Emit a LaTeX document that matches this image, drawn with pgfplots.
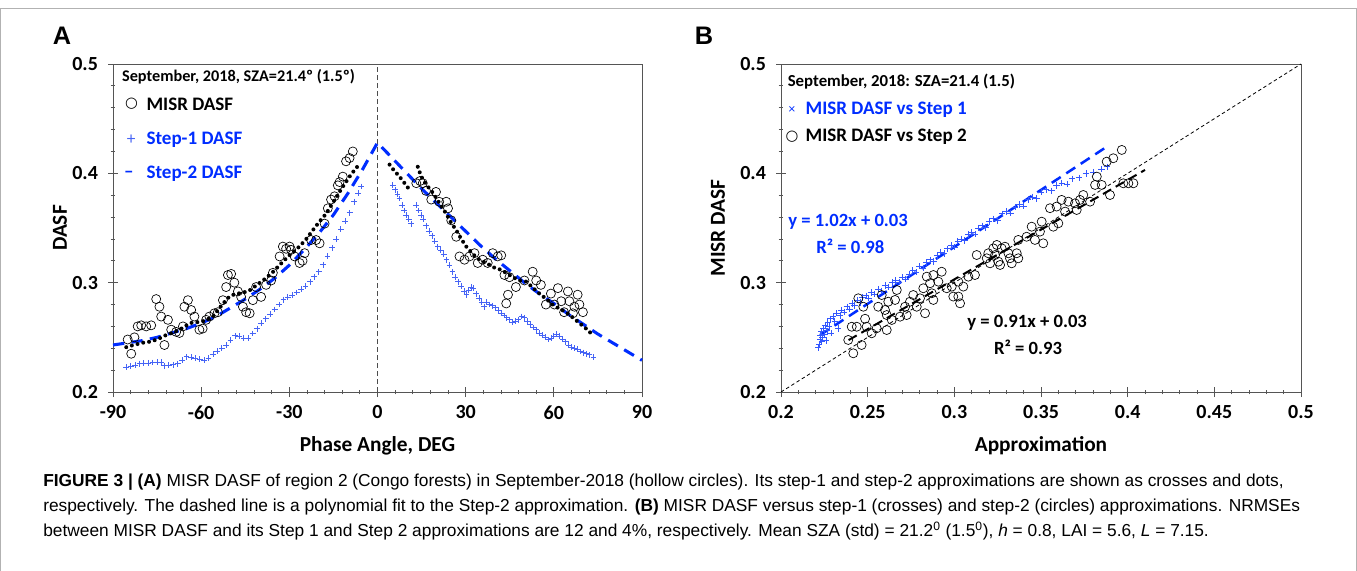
\documentclass[border=0pt]{standalone}
\usepackage{fontspec}
\setmainfont{Carlito}
\newfontfamily\capfont{Liberation Sans}
\newfontfamily\symfont{DejaVu Sans}
\usepackage{pgfplots}
\pgfplotsset{compat=1.18}
\definecolor{dblue}{RGB}{0,45,255}
\definecolor{lblue}{RGB}{70,100,245}
\definecolor{axgray}{RGB}{85,85,85}
\newcommand\lgf{\bfseries\fontsize{14.3}{17}\selectfont}
\newcommand\eqf{\bfseries\fontsize{14}{17}\selectfont}
\pgfplotsset{
  myax/.style={
    scale only axis,
    height=246pt,
    anchor=south west,
    axis line style={axgray, line width=0.7pt},
    tick pos=left,
    tick align=center,
    major tick length=7.5pt,
    minor tick length=3.5pt,
    every tick/.style={axgray, line width=0.6pt},
    minor x tick num=4,
    minor y tick num=4,
    tick label style={font=\bfseries\fontsize{15}{18}\selectfont},
    xticklabel style={yshift=-3pt},
    yticklabel style={xshift=-4pt},
    every axis x label/.style={at={(axis description cs:0.5,0)}, yshift=-40pt, anchor=center, font=\bfseries\fontsize{16}{19}\selectfont},
    ymin=0.2, ymax=0.5,
    ytick={0.2,0.3,0.4,0.5},
    yticklabels={0.2,0.3,0.4,0.5},
    clip=false,
  }
}
\begin{document}
\begin{tikzpicture}
\useasboundingbox (0,0) rectangle (1017.75pt,-428.25pt);
\draw[gray!60, line width=0.75pt] (0.4pt,-428.25pt) -- (0.4pt,-6pt) -- (1017.35pt,-6pt) -- (1017.35pt,-428.25pt);
\node[font=\capfont\bfseries\fontsize{19}{22}\selectfont] at (46.5pt,-27pt) {A};
\node[font=\capfont\bfseries\fontsize{19}{22}\selectfont] at (528pt,-27pt) {B};

% ---------------- Panel A ----------------
\begin{axis}[myax,
  at={(84.75pt,-294pt)}, width=396.75pt,
  xmin=-90, xmax=90,
  xtick={-90,-60,-30,0,30,60,90},
  xticklabels={-90,-60,-30,0,30,60,90},
  xlabel={Phase Angle, DEG},
  every axis y label/.style={at={(axis description cs:0,0.5)}, xshift=-39.75pt, rotate=90, anchor=center, font=\bfseries\fontsize{16}{19}\selectfont},
  ylabel={DASF},
]
\addplot[gray!60!black, line width=0.7pt, dash pattern=on 3.5pt off 2.5pt] coordinates {(0,0.2) (0,0.5)};
% Step-1 DASF (crosses)
\addplot[only marks, mark=+, mark size=2.2pt, lblue, mark options={line width=0.55pt}] coordinates {
(-85.5,0.2226) (-84,0.2235) (-82.5,0.2245) (-81,0.2260) (-79.5,0.2262) (-78,0.2266) (-76.5,0.2270) (-75,0.2275) (-73.5,0.2272) (-72.5,0.2240) (-71,0.2245) (-69.5,0.2250) (-68,0.2258) (-66.5,0.2290) (-65,0.2323) (-63.5,0.2318) (-62,0.2308) (-60.5,0.2300) (-59,0.2293) (-57.5,0.2310) (-56,0.2345) (-54.5,0.2375) (-53,0.2400) (-51.5,0.2430) (-50,0.2475) (-48.5,0.2515) (-47,0.2510) (-45.5,0.2495) (-44,0.2490) (-42.5,0.2535) (-41,0.2580) (-39.5,0.2630) (-38,0.2670) (-36.5,0.2710) (-35,0.2755) (-33.5,0.2800) (-32,0.2845) (-30.5,0.2865) (-29,0.2885) (-27.5,0.2910) (-26,0.2940) (-24.5,0.2970) (-23,0.3010) (-21.5,0.3055) (-20,0.3100) (-18.5,0.3165) (-17,0.3240) (-15.5,0.3320) (-14,0.3400) (-12.5,0.3490) (-11,0.3565) (-9.5,0.3640) (-8,0.3740) (-6.5,0.3820) (-5.5,0.3880)
(5.2,0.389) (6.0,0.385) (6.8,0.381) (7.5,0.377) (8.3,0.371) (9.0,0.366) (9.8,0.362) (10.6,0.358) (11.5,0.354)
(13.2,0.371) (14.0,0.366) (14.8,0.362) (15.5,0.358) (16.5,0.352) (17.5,0.347) (18.5,0.343) (19.5,0.338) (20.5,0.333) (21.5,0.330) (22.5,0.326) (23.5,0.321) (24.5,0.316) (25.5,0.310) (26.5,0.305) (27.5,0.301) (28.5,0.297) (29.5,0.292) (30.3,0.289) (31.0,0.293) (31.8,0.296) (32.6,0.295) (33.5,0.290) (34.5,0.286) (35.5,0.282) (36.3,0.278) (37.0,0.282) (38.0,0.280) (39.0,0.279) (40.0,0.277) (41.0,0.275) (42.0,0.272) (43.0,0.270) (44.0,0.268) (45.0,0.266) (46.0,0.264) (47.0,0.265) (48.0,0.266) (49.0,0.269) (50.0,0.268) (51.0,0.265) (52.0,0.262) (53.0,0.259) (54.0,0.257) (55.0,0.254) (56.0,0.252) (57.0,0.250) (58.0,0.248) (59.0,0.249) (60.0,0.251) (61.0,0.253) (62.0,0.251) (63.0,0.248) (64.0,0.246) (65.0,0.243) (66.0,0.241) (67.0,0.240) (68.0,0.239) (69.0,0.237) (70.0,0.236) (71.0,0.235) (72.0,0.234) (73.5,0.232)
};
% MISR DASF (circles)
\addplot[only marks, mark=o, mark size=3.4pt, black, mark options={line width=0.5pt}] coordinates {
(-85,0.248) (-83.8,0.235) (-82.7,0.250) (-81.6,0.260) (-80.4,0.261) (-78.7,0.260) (-77,0.261) (-75.3,0.285) (-74.2,0.278) (-73.6,0.269) (-72.5,0.243) (-71.3,0.266) (-70.2,0.257) (-68.5,0.255) (-67.4,0.254) (-66.2,0.260) (-65.7,0.278) (-64.5,0.284) (-63.4,0.275) (-62.3,0.269) (-60.6,0.257) (-59.5,0.258) (-58.3,0.266) (-57.2,0.269) (-55.5,0.272) (-54.3,0.273) (-52.6,0.284) (-51.5,0.296) (-50.9,0.307) (-49.8,0.308) (-48.7,0.300) (-47.5,0.292) (-46.4,0.287) (-45.8,0.278) (-44.7,0.273) (-43.5,0.272) (-42.4,0.284) (-41.3,0.296) (-39.6,0.287) (-37.9,0.298) (-36.2,0.302) (-35.6,0.309) (-33.3,0.324) (-32.2,0.333) (-31.1,0.331) (-29.9,0.333) (-29.4,0.330) (-28.2,0.324) (-26.5,0.318) (-25.5,0.320) (-24.8,0.327) (-22.6,0.339) (-20.9,0.339) (-19.7,0.336) (-18,0.354) (-16.9,0.368) (-15.8,0.376) (-14.6,0.379) (-13.5,0.389) (-12.9,0.392) (-11.8,0.397) (-10.7,0.411) (-9.5,0.414) (-8.4,0.420)
(13.2,0.391) (14.5,0.393) (15.4,0.391) (16.5,0.384) (18.3,0.376) (19.9,0.383) (21,0.374) (23.4,0.374) (24,0.368) (25.1,0.357) (26.8,0.342) (27.9,0.324) (29.6,0.321) (31.3,0.324) (33,0.327) (34.1,0.318) (35.8,0.321) (37.5,0.318) (39.2,0.327) (40.9,0.324) (42.1,0.325) (43.2,0.307) (44.9,0.305) (44.4,0.289) (43.8,0.281) (47.1,0.296) (50,0.302) (52.8,0.310) (54,0.302) (55.6,0.298) (57.3,0.280) (59,0.290) (61.4,0.295) (62.5,0.283) (64.8,0.292) (65.3,0.283) (67,0.278) (68.1,0.289) (68.7,0.280) (69.9,0.273) (66.5,0.272) (60.2,0.280) (63.5,0.273)
};
% Step-2 polynomial fit (blue dashed)
\addplot[dblue, line width=2.3pt, dash pattern=on 8.5pt off 5.5pt] coordinates {
(-90,0.243) (-85,0.245) (-80,0.247) (-75,0.250) (-70,0.254) (-65,0.258) (-60,0.263) (-55,0.269) (-50,0.277) (-45,0.285) (-40,0.294) (-35,0.304) (-30,0.316) (-25,0.330) (-20,0.345) (-15,0.362) (-10,0.382) (-5,0.404) (0,0.428) (5,0.414) (10,0.400) (15,0.386) (20,0.373) (25,0.360) (30,0.347) (35,0.334) (40,0.322) (45,0.311) (50,0.300) (55,0.290) (60,0.281) (65,0.271) (70,0.262) (75,0.253) (80,0.245) (85,0.237) (90,0.229)
};
% Step-2 approximation (black dots)
\addplot[black, line width=3pt, dash pattern=on 0pt off 4.4pt, line cap=round] coordinates {
(-85.5,0.241) (-83,0.243) (-80,0.245) (-77.5,0.246) (-75,0.248) (-72,0.252) (-69,0.255) (-66,0.259) (-64,0.263) (-61,0.264) (-59,0.265) (-56,0.269) (-54,0.276) (-52.5,0.281) (-50.5,0.287) (-49,0.289) (-46,0.291) (-44,0.292) (-42.5,0.295) (-40,0.300) (-38,0.304) (-35.5,0.310) (-33,0.317) (-30,0.325) (-27,0.332) (-24.5,0.339) (-22,0.348) (-20,0.355) (-17.5,0.363) (-15,0.374) (-12,0.387) (-9,0.399) (-6,0.409)
};
\addplot[black, line width=3pt, dash pattern=on 0pt off 4.4pt, line cap=round] coordinates {
(4.1,0.408) (5.5,0.403) (7.5,0.397) (9.2,0.391) (10.9,0.385) (11.5,0.383)
};
\addplot[black, line width=3pt, dash pattern=on 0pt off 4.4pt, line cap=round] coordinates {
(13.7,0.406) (14.9,0.397) (16.5,0.390) (18.9,0.382) (21,0.373) (23.4,0.363) (25,0.355) (26.8,0.348) (28.5,0.340) (30.2,0.333) (32.5,0.326) (34.7,0.321) (37,0.318) (39.5,0.314) (41,0.313) (43.8,0.309) (46.1,0.305) (48.3,0.302) (50.6,0.301) (53,0.295) (55.1,0.290) (57.5,0.285) (59.6,0.280) (62,0.276) (64.2,0.273) (66.5,0.268) (68.7,0.263) (71,0.258) (73.3,0.252)
};
\node[anchor=west, font=\bfseries\fontsize{12.2}{14}\selectfont] at (axis cs:-88.5,0.488) {September, 2018, SZA=21.4º (1.5º)};
\node[font=\symfont\fontsize{11}{13}\selectfont] at (axis cs:-83.7,0.4635) {○};
\node[anchor=west, font=\lgf] at (axis cs:-80.2,0.4635) {MISR DASF};
\node[lblue, font=\fontsize{13}{15}\selectfont] at (axis cs:-83.8,0.4306) {+};
\node[anchor=west, dblue, font=\lgf] at (axis cs:-80.2,0.4306) {Step-1 DASF};
\node[dblue, font=\lgf] at (axis cs:-84.6,0.3995) {–};
\node[anchor=west, dblue, font=\lgf] at (axis cs:-80.2,0.3995) {Step-2 DASF};
\end{axis}

% ---------------- Panel B ----------------
\begin{axis}[myax,
  at={(585.75pt,-294pt)}, width=390pt,
  xmin=0.2, xmax=0.5,
  xtick={0.2,0.25,0.3,0.35,0.4,0.45,0.5},
  xticklabels={0.2,0.25,0.3,0.35,0.4,0.45,0.5},
  xlabel={Approximation},
  every axis y label/.style={at={(axis description cs:0,0.5)}, xshift=-47.25pt, rotate=90, anchor=center, font=\bfseries\fontsize{16}{19}\selectfont},
  ylabel={MISR DASF},
]
\addplot[black, line width=0.6pt, dash pattern=on 2.6pt off 2pt] coordinates {(0.2,0.2) (0.5,0.5)};
% MISR vs Step 1 (crosses)
\addplot[only marks, mark=+, mark size=2.4pt, dblue!80!white, mark options={line width=0.5pt}] coordinates {
(0.2215,0.2405) (0.2220,0.2440) (0.2225,0.2480) (0.2228,0.2520) (0.2232,0.2555) (0.2235,0.2460) (0.2240,0.2500) (0.2245,0.2585) (0.2250,0.2530) (0.2255,0.2610) (0.2260,0.2470) (0.2265,0.2560) (0.2270,0.2640) (0.2278,0.2600) (0.2285,0.2670) (0.2290,0.2540) (0.2300,0.2690) (0.2310,0.2650) (0.2320,0.2720) (0.2330,0.2580) (0.2340,0.2700) (0.2350,0.2750) (0.2365,0.2730) (0.2380,0.2780) (0.2395,0.2760) (0.2410,0.2810) (0.2425,0.2790) (0.2440,0.2840) (0.2455,0.2820) (0.2470,0.2865) (0.2490,0.2880) (0.2505,0.2860) (0.2520,0.2910) (0.2540,0.2895) (0.2560,0.2940) (0.2580,0.2925) (0.2600,0.2975) (0.2620,0.2960) (0.2640,0.3000) (0.2660,0.3020) (0.2680,0.3005) (0.2700,0.3050) (0.2720,0.3035) (0.2740,0.3080) (0.2760,0.3110) (0.2780,0.3095) (0.2800,0.3150) (0.2820,0.3135) (0.2840,0.3185) (0.2860,0.3210) (0.2880,0.3195) (0.2900,0.3250) (0.2920,0.3280) (0.2940,0.3265) (0.2960,0.3310) (0.2980,0.3340) (0.3000,0.3325) (0.3020,0.3380) (0.3040,0.3400) (0.3060,0.3385) (0.3080,0.3440) (0.3100,0.3460) (0.3120,0.3445) (0.3140,0.3500) (0.3160,0.3520) (0.3180,0.3505) (0.3200,0.3560) (0.3225,0.3585) (0.3250,0.3570) (0.3275,0.3630) (0.3300,0.3650) (0.3325,0.3635) (0.3350,0.3690) (0.3375,0.3715) (0.3400,0.3700) (0.3425,0.3760) (0.3450,0.3785) (0.3475,0.3770) (0.3500,0.3830) (0.3530,0.3850) (0.3560,0.3840) (0.3590,0.3890) (0.3620,0.3910) (0.3650,0.3900) (0.3680,0.3950) (0.3720,0.3960) (0.3760,0.4000) (0.3800,0.4010) (0.3850,0.4040) (0.3880,0.4060)
};
% MISR vs Step 2 (circles)
\addplot[only marks, mark=o, mark size=3.4pt, black, mark options={line width=0.5pt}] coordinates {
(0.2388,0.2476) (0.2417,0.2354) (0.2408,0.2597) (0.2437,0.2597) (0.2446,0.2857) (0.2465,0.2430) (0.2475,0.2780) (0.2485,0.2670) (0.2494,0.2597) (0.2523,0.2537) (0.2552,0.2583) (0.2561,0.2780) (0.2581,0.2887) (0.2600,0.2750) (0.2610,0.2704) (0.2610,0.2567) (0.2619,0.2826) (0.2639,0.2659) (0.2658,0.2842) (0.2668,0.2933) (0.2687,0.2689) (0.2716,0.2780) (0.2725,0.2704) (0.2744,0.2826) (0.2763,0.2887) (0.2783,0.2780) (0.2802,0.2857) (0.2821,0.2949) (0.2831,0.2720) (0.2841,0.3055) (0.2860,0.2995) (0.2870,0.2903) (0.2879,0.2842) (0.2879,0.3070) (0.2908,0.3009) (0.2927,0.3100) (0.2956,0.2949) (0.2985,0.2964) (0.2994,0.2873) (0.3023,0.2873) (0.3033,0.2811) (0.3023,0.3009) (0.3052,0.2964) (0.3081,0.3055) (0.3119,0.3070) (0.3129,0.3253) (0.3187,0.3223) (0.3196,0.3269) (0.3206,0.3177) (0.3225,0.3314) (0.3235,0.3253) (0.3245,0.3345) (0.3254,0.3192) (0.3264,0.3162) (0.3273,0.3314) (0.3292,0.3329) (0.3312,0.3269) (0.3321,0.3223) (0.3331,0.3177) (0.3360,0.3269) (0.3369,0.3223) (0.3369,0.3391) (0.3417,0.3420) (0.3446,0.3512) (0.3465,0.3391) (0.3494,0.3467) (0.3504,0.3558) (0.3513,0.3360) (0.3552,0.3681) (0.3571,0.3512) (0.3590,0.3696) (0.3600,0.3543) (0.3619,0.3757) (0.3639,0.3650) (0.3658,0.3741) (0.3696,0.3726) (0.3706,0.3665) (0.3725,0.3757) (0.3744,0.3802) (0.3783,0.3741) (0.3812,0.3894) (0.3822,0.3970) (0.3850,0.3894) (0.3879,0.4107) (0.3898,0.3802) (0.3917,0.4138) (0.3966,0.4214) (0.3975,0.3909) (0.4004,0.3909) (0.4033,0.3909)
};
% fit lines
\addplot[dblue, line width=1.9pt, dash pattern=on 8pt off 5pt] coordinates {(0.2225,0.252) (0.388,0.4244)};
\addplot[black, line width=1.5pt, dash pattern=on 7pt off 4pt] coordinates {(0.239,0.2475) (0.41,0.4031)};
\node[anchor=west, font=\bfseries\fontsize{12.6}{15}\selectfont] at (axis cs:0.2012,0.4836) {September, 2018: SZA=21.4 (1.5)};
\node[dblue, font=\fontsize{10}{12}\selectfont] at (axis cs:0.2063,0.458) {×};
\node[anchor=west, dblue, font=\lgf] at (axis cs:0.2115,0.458) {MISR DASF vs Step 1};
\node[font=\symfont\fontsize{11}{13}\selectfont] at (axis cs:0.2063,0.4333) {○};
\node[anchor=west, font=\lgf] at (axis cs:0.2115,0.4333) {MISR DASF vs Step 2};
\node[dblue, font=\eqf] at (axis cs:0.2387,0.3555) {y = 1.02x + 0.03};
\node[dblue, font=\eqf] at (axis cs:0.2400,0.3336) {R² = 0.98};
\node[font=\eqf] at (axis cs:0.3420,0.2631) {y = 0.91x + 0.03};
\node[font=\eqf] at (axis cs:0.3425,0.2412) {R² = 0.93};
\end{axis}

% ---------------- Caption ----------------
\begin{scope}[every node/.style={anchor=base west, inner sep=0pt, font=\capfont\fontsize{13}{15}\selectfont}]
\node at (32.25pt,-364.5pt) {\textbf{FIGURE 3 | (A)} MISR DASF of region 2 (Congo forests) in September-2018 (hollow circles). Its step-1 and step-2 approximations are shown as crosses and dots,};
\node at (32.25pt,-383.25pt) {respectively. The dashed line is a polynomial fit to the Step-2 approximation. \textbf{(B)} MISR DASF versus step-1 (crosses) and step-2 (circles) approximations. NRMSEs};
\node at (32.25pt,-402pt) {between MISR DASF and its Step 1 and Step 2 approximations are 12 and 4\%, respectively. Mean SZA (std) = 21.2\textsuperscript{0} (1.5\textsuperscript{0}), \textit{h} = 0.8, LAI = 5.6, \textit{L} = 7.15.};
\end{scope}
\end{tikzpicture}
\end{document}
